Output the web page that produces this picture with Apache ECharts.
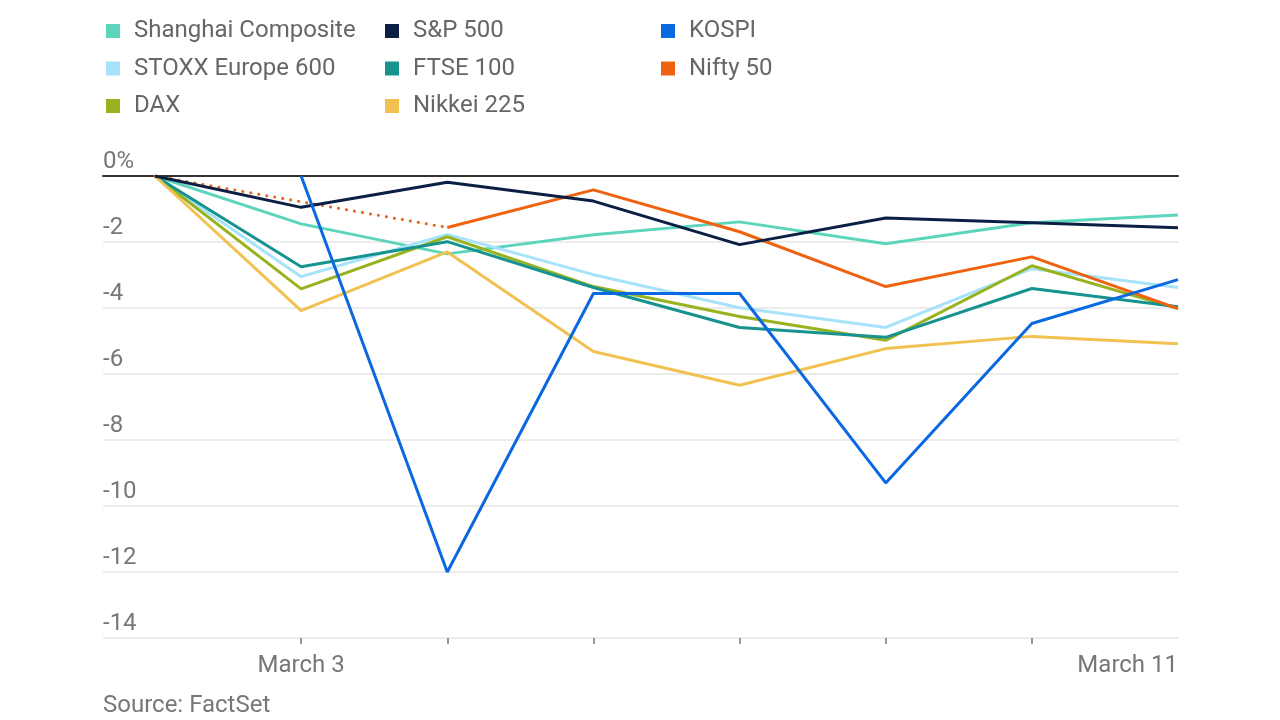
<!DOCTYPE html>
<html>
<head>
<meta charset="utf-8">
<script src="https://cdn.jsdelivr.net/npm/echarts@6/dist/echarts.min.js"></script>
<style>html,body{margin:0;padding:0;background:#fff}#c{width:1280px;height:720px}</style>
</head>
<body>
<div id="c"></div>
<script>
const categories = ['March 2','March 3','March 4','March 5','March 6','March 9','March 10','March 11'];
const shanghai = [0, -1.45, -2.36, -1.78, -1.39, -2.05, -1.42, -1.18];
const sp500    = [0, -0.95, -0.19, -0.76, -2.08, -1.27, -1.42, -1.57];
const kospi    = [null, 0, -12.0, -3.56, -3.56, -9.3, -4.47, -3.14];
const stoxx    = [0, -3.05, -1.77, -2.99, -3.99, -4.59, -2.81, -3.38];
const ftse     = [0, -2.75, -1.99, -3.38, -4.59, -4.89, -3.41, -3.96];
const nifty    = [0, null, -1.56, -0.42, -1.69, -3.35, -2.45, -4.02];
const dax      = [0, -3.42, -1.84, -3.35, -4.26, -4.98, -2.72, -4.02];
const nikkei   = [0, -4.08, -2.30, -5.32, -6.34, -5.23, -4.86, -5.08];
const yTicks = [0, -2, -4, -6, -8, -10, -12, -14];

const C = {
  shanghai: '#5dd5bd', sp: '#0b1f45', kospi: '#0a68e0', stoxx: '#a6e3fb',
  ftse: '#16928f', nifty: '#ef620f', dax: '#98b320', nikkei: '#f1c152'
};
const FONT = 'Roboto';
const chart = echarts.init(document.getElementById('c'));

function line(name, data, color, extra) {
  return Object.assign({
    name, type: 'line', data, xAxisIndex: 1, yAxisIndex: 1,
    symbol: 'none', color, lineStyle: { width: 3, color },
    emphasis: { disabled: true }
  }, extra || {});
}

const niftySolid = nifty.map((v, i) => i < 2 ? null : v);
const niftyDotted = nifty.map((v, i) => i <= 2 ? v : null);

const legendCommon = {
  orient: 'vertical', icon: 'rect', itemWidth: 14, itemHeight: 14, itemGap: 13.5,
  top: 14, textStyle: { fontFamily: FONT, fontSize: 24, lineHeight: 24, color: '#666',
    padding: [0, 0, 0, 9] },
  selectedMode: false
};

chart.setOption({
  animation: false,
  title: {
    text: 'Source: FactSet', left: 98, top: 689,
    textStyle: { fontFamily: FONT, fontSize: 24, color: '#777', fontWeight: 'normal' }
  },
  legend: [
    Object.assign({ left: 101, data: ['Shanghai Composite', 'STOXX Europe 600', 'DAX'] }, legendCommon),
    Object.assign({ left: 380, data: ['S&P 500', 'FTSE 100', 'Nikkei 225'] }, legendCommon),
    Object.assign({ left: 656, data: ['KOSPI', 'Nifty 50'] }, legendCommon)
  ],
  grid: [
    { left: 103, right: 102, top: 176, bottom: 82 },
    { left: 155, right: 102, top: 176, bottom: 82 }
  ],
  xAxis: [
    { gridIndex: 0, type: 'category', data: categories, boundaryGap: false,
      axisLine: { show: true, onZero: true, lineStyle: { color: '#333', width: 2 } },
      axisTick: { show: false }, axisLabel: { show: false }, splitLine: { show: false } },
    { gridIndex: 1, type: 'category', data: categories, boundaryGap: false,
      axisLine: { show: false, onZero: false },
      axisTick: { show: true, length: 6, lineStyle: { color: '#777', width: 1.5 },
        interval: (i) => i >= 1 && i <= 6 },
      axisLabel: { show: true, margin: 16, fontFamily: FONT, fontSize: 24, color: '#777',
        interval: (i) => i === 1 || i === 7, alignMaxLabel: 'right' },
      splitLine: { show: false } }
  ],
  yAxis: [
    { gridIndex: 0, type: 'value', min: -14, max: 0, interval: 2,
      axisLine: { show: false }, axisTick: { show: false },
      axisLabel: { inside: true, margin: 0, align: 'left', verticalAlign: 'bottom',
        padding: [0, 0, 2, 0], fontFamily: FONT, fontSize: 24, color: '#777',
        formatter: (v) => v === 0 ? '0%' : String(v) },
      splitLine: { show: true, lineStyle: { color: '#e6e6e6', width: 1.5 } } },
    { gridIndex: 1, type: 'value', min: -14, max: 0, interval: 2,
      axisLine: { show: false }, axisTick: { show: false }, axisLabel: { show: false },
      splitLine: { show: false } }
  ],
  series: [
    line('Shanghai Composite', shanghai, C.shanghai),
    line('STOXX Europe 600', stoxx, C.stoxx),
    line('DAX', dax, C.dax),
    line('FTSE 100', ftse, C.ftse),
    line('Nikkei 225', nikkei, C.nikkei),
    line('Nifty 50', niftySolid, C.nifty),
    line('Nifty 50', niftyDotted, C.nifty, { connectNulls: true,
      lineStyle: { width: 3, color: C.nifty, type: [0.1, 8], cap: 'round' } }),
    line('S&P 500', sp500, C.sp),
    line('KOSPI', kospi, C.kospi)
  ]
});
</script>
</body>
</html>
